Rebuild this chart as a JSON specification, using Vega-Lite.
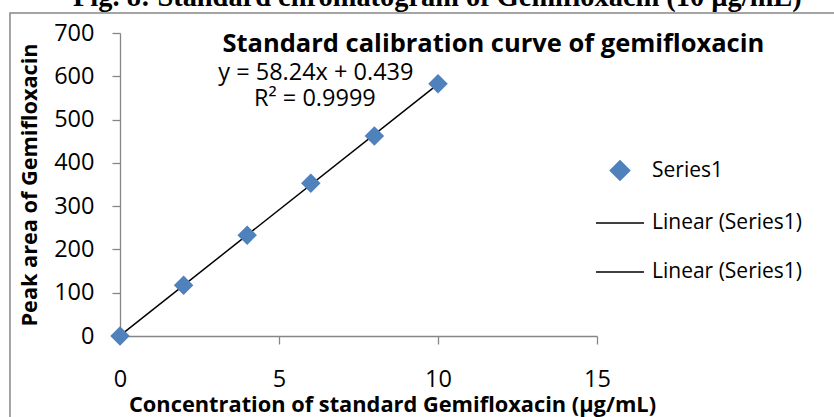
{
  "$schema": "https://vega.github.io/schema/vega-lite/v6.json",
  "autosize": {"type": "none"},
  "width": 477,
  "height": 303,
  "padding": {"left": 120, "top": 33, "right": 237, "bottom": 81},
  "background": "white",
  "config": {
    "view": {"stroke": null},
    "font": "Open Sans",
    "axis": {
      "grid": false,
      "domainColor": "#868686",
      "domainWidth": 1.3,
      "tickColor": "#868686",
      "tickWidth": 1.3,
      "tickSize": 8,
      "labelColor": "black",
      "labelFont": "Open Sans",
      "labelFontSize": 23.5,
      "labelFlush": false,
      "titleFont": "Open Sans",
      "titleFontWeight": "bold",
      "titleColor": "black"
    },
    "legend": {
      "labelFont": "Open Sans",
      "labelFontSize": 21,
      "labelColor": "black",
      "labelOffset": 7,
      "rowPadding": 14,
      "symbolStrokeWidth": 1.5,
      "symbolOpacity": 1
    }
  },
  "data": {
    "values": [
      {"conc": 0, "area": 0, "series": "Series1"},
      {"conc": 2, "area": 117.5, "series": "Series1"},
      {"conc": 4, "area": 233, "series": "Series1"},
      {"conc": 6, "area": 353, "series": "Series1"},
      {"conc": 8, "area": 462, "series": "Series1"},
      {"conc": 10, "area": 583, "series": "Series1"}
    ]
  },
  "encoding": {
    "x": {
      "field": "conc",
      "type": "quantitative",
      "scale": {"domain": [0, 15], "nice": false},
      "axis": {
        "values": [0, 5, 10, 15],
        "labelPadding": 23,
        "title": "Concentration of standard Gemifloxacin (µg/mL)",
        "titleFontSize": 21.8,
        "titleX": 272,
        "titleAlign": "center",
        "titleAnchor": null,
        "titlePadding": 4
      }
    },
    "y": {
      "field": "area",
      "type": "quantitative",
      "scale": {"domain": [0, 700], "nice": false},
      "axis": {
        "values": [0, 100, 200, 300, 400, 500, 600, 700],
        "labelPadding": 18,
        "title": "Peak area of Gemifloxacin",
        "titleFontSize": 21.7,
        "titlePadding": 12
      }
    }
  },
  "layer": [
    {
      "transform": [{"filter": "datum.conc == 10"}],
      "mark": {"type": "rect", "fill": null, "stroke": "#868686", "strokeWidth": 1.5, "clip": false},
      "encoding": {
        "x": {"datum": -3.46},
        "x2": {"datum": 30},
        "y": {"datum": 746},
        "y2": {"datum": -300}
      }
    },
    {
      "transform": [{"regression": "area", "on": "conc"}],
      "mark": {"type": "line", "strokeWidth": 1.5},
      "encoding": {
        "color": {"datum": "Linear (Series1)"}
      }
    },
    {
      "mark": {"type": "point", "filled": true, "opacity": 1},
      "encoding": {
        "color": {
          "field": "series",
          "type": "nominal",
          "scale": {
            "domain": ["Series1", "Linear (Series1)", "Linear (Series1) "],
            "range": ["#4F81BD", "black", "black"]
          },
          "legend": {"title": null, "orient": "none", "legendX": 475, "legendY": 127}
        },
        "shape": {
          "field": "series",
          "type": "nominal",
          "scale": {
            "domain": ["Series1", "Linear (Series1)", "Linear (Series1) "],
            "range": ["diamond", "stroke", "stroke"]
          },
          "legend": {"title": null, "orient": "none", "legendX": 475, "legendY": 127}
        },
        "size": {
          "field": "series",
          "type": "nominal",
          "scale": {
            "type": "ordinal",
            "domain": ["Series1", "Linear (Series1)", "Linear (Series1) "],
            "range": [380, 2304, 2304]
          },
          "legend": {"title": null, "orient": "none", "legendX": 475, "legendY": 127}
        }
      }
    },
    {
      "transform": [{"filter": "datum.conc == 10"}],
      "mark": {"type": "text", "font": "Open Sans", "fontSize": 23.5, "color": "black", "align": "center", "baseline": "middle"},
      "encoding": {
        "x": {"datum": 6.16},
        "y": {"datum": 607.6},
        "text": {"value": "y = 58.24x + 0.439"}
      }
    },
    {
      "transform": [{"filter": "datum.conc == 10"}],
      "mark": {"type": "text", "font": "Open Sans", "fontSize": 23.5, "color": "black", "align": "center", "baseline": "middle"},
      "encoding": {
        "x": {"datum": 6.13},
        "y": {"datum": 547.5},
        "text": {"value": "R² = 0.9999"}
      }
    },
    {
      "transform": [{"filter": "datum.conc == 10"}],
      "mark": {"type": "text", "font": "Open Sans", "fontSize": 25.5, "fontWeight": "bold", "color": "black", "align": "center", "baseline": "alphabetic"},
      "encoding": {
        "x": {"datum": 11.74},
        "y": {"datum": 656.1},
        "text": {"value": "Standard calibration curve of gemifloxacin"}
      }
    },
    {
      "transform": [{"filter": "datum.conc == 10"}],
      "mark": {"type": "text", "font": "Liberation Serif", "fontSize": 28.4, "fontWeight": "bold", "color": "black", "align": "center", "baseline": "alphabetic", "clip": false},
      "encoding": {
        "x": {"datum": 9.98},
        "y": {"datum": 762.4},
        "text": {"value": "Fig. 8: Standard chromatogram of Gemifloxacin (10 µg/mL)"}
      }
    }
  ]
}
